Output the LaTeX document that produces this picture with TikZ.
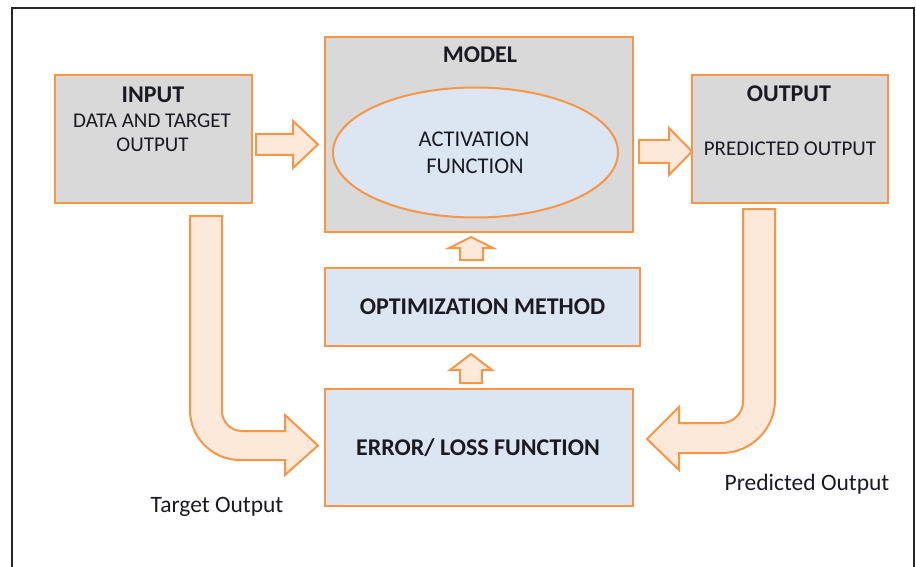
\documentclass[tikz,border=0pt]{standalone}
\usepackage{fontspec}
\setmainfont{Carlito}
\usetikzlibrary{shapes.geometric}
\definecolor{orng}{HTML}{F79646}
\definecolor{grayfill}{HTML}{D9D9D9}
\definecolor{bluefill}{HTML}{DCE6F2}
\definecolor{peach}{HTML}{FDE9D9}
\definecolor{txt}{HTML}{1A1A22}
\begin{document}
\begin{tikzpicture}[x=1pt,y=-1pt,
  box/.style={draw=orng,line width=2.2pt,inner sep=0pt},
  graybox/.style={box,fill=grayfill},
  bluebox/.style={box,fill=bluefill},
  blockarrow/.style={draw=orng,line width=2pt,fill=peach,line join=miter},
  ttl/.style={anchor=base,inner sep=0pt,text=txt,font=\fontsize{24}{28}\selectfont\bfseries},
  body/.style={anchor=base,inner sep=0pt,text=txt,font=\fontsize{21}{25}\selectfont},
  bodyl/.style={anchor=base,inner sep=0pt,text=txt,font=\fontsize{22.5}{26}\selectfont},
  lbl/.style={anchor=base,inner sep=0pt,text=txt,font=\fontsize{23.5}{28}\selectfont}]
\useasboundingbox (0,0) rectangle (916,567);
% frame
\draw[line width=2.5pt,draw=black!85] (12,580) -- (12,8) -- (914,8) -- (914,580);

% boxes
\node[graybox,minimum width=197pt,minimum height=128pt] (input) at (153.5,139) {};
\node[graybox,minimum width=308pt,minimum height=195pt] (model) at (479,134.5) {};
\node[draw=orng,line width=2pt,fill=bluefill,ellipse,minimum width=285pt,minimum height=130pt,inner sep=0pt] (act) at (475.5,152.5) {};
\node[graybox,minimum width=196pt,minimum height=128pt] (output) at (790,139) {};
\node[bluebox,minimum width=315pt,minimum height=78pt] (opt) at (482.5,307) {};
\node[bluebox,minimum width=308pt,minimum height=117pt] (err) at (479,447.5) {};

% texts
\node[ttl] (t-in) at (153,102.5) {INPUT};
\node[body] (t-in2) at (152,128) {DATA AND TARGET};
\node[body] (t-in3) at (152.5,151.5) {OUTPUT};
\node[ttl] (t-mod) at (480,63) {MODEL};
\node[bodyl] (t-act1) at (474,146.5) {ACTIVATION};
\node[bodyl] (t-act2) at (475,173.5) {FUNCTION};
\node[ttl] (t-out) at (789,101.5) {OUTPUT};
\node[body] (t-out2) at (790,155.5) {PREDICTED OUTPUT};
\node[ttl] (t-opt) at (482.5,314) {OPTIMIZATION METHOD};
\node[ttl] (t-err) at (478,455) {ERROR/ LOSS FUNCTION};
\node[lbl] (l-tgt) at (217,512) {Target Output};
\node[lbl] (l-pred) at (807,490.5) {Predicted Output};

% input -> model
\draw[blockarrow] (256,134) -- (293,134) -- (293,121) -- (318,144.5) -- (293,168) -- (293,155) -- (256,155) -- cycle;
% model -> output
\draw[blockarrow] (639,140) -- (669,140) -- (669,128) -- (692,151.5) -- (669,175) -- (669,163) -- (639,163) -- cycle;
% opt -> model
\draw[blockarrow] (460,260) -- (460,248) -- (449,248) -- (471,237) -- (493,248) -- (483,248) -- (483,260) -- cycle;
% err -> opt
\draw[blockarrow] (460,383) -- (460,370) -- (450,370) -- (471,354) -- (492,370) -- (482,370) -- (482,383) -- cycle;
% input -> error (bent)
\draw[blockarrow] (222,216) -- (190,216) -- (190,410)
  .. controls (190,437.6) and (212.4,460) .. (240,460)
  -- (285,460) -- (285,475) -- (318,445.5) -- (285,415) -- (285,431)
  -- (242,431) .. controls (231,431) and (222,422) .. (222,411) -- cycle;
% output -> error (bent)
\draw[blockarrow] (743,209) -- (775,209) -- (775,400)
  .. controls (775,429) and (751,453) .. (722,453)
  -- (679,453) -- (679,470) -- (647,439) -- (679,407) -- (679,423)
  -- (722,423) .. controls (733,423) and (743,413) .. (743,402) -- cycle;
\end{tikzpicture}
\end{document}
